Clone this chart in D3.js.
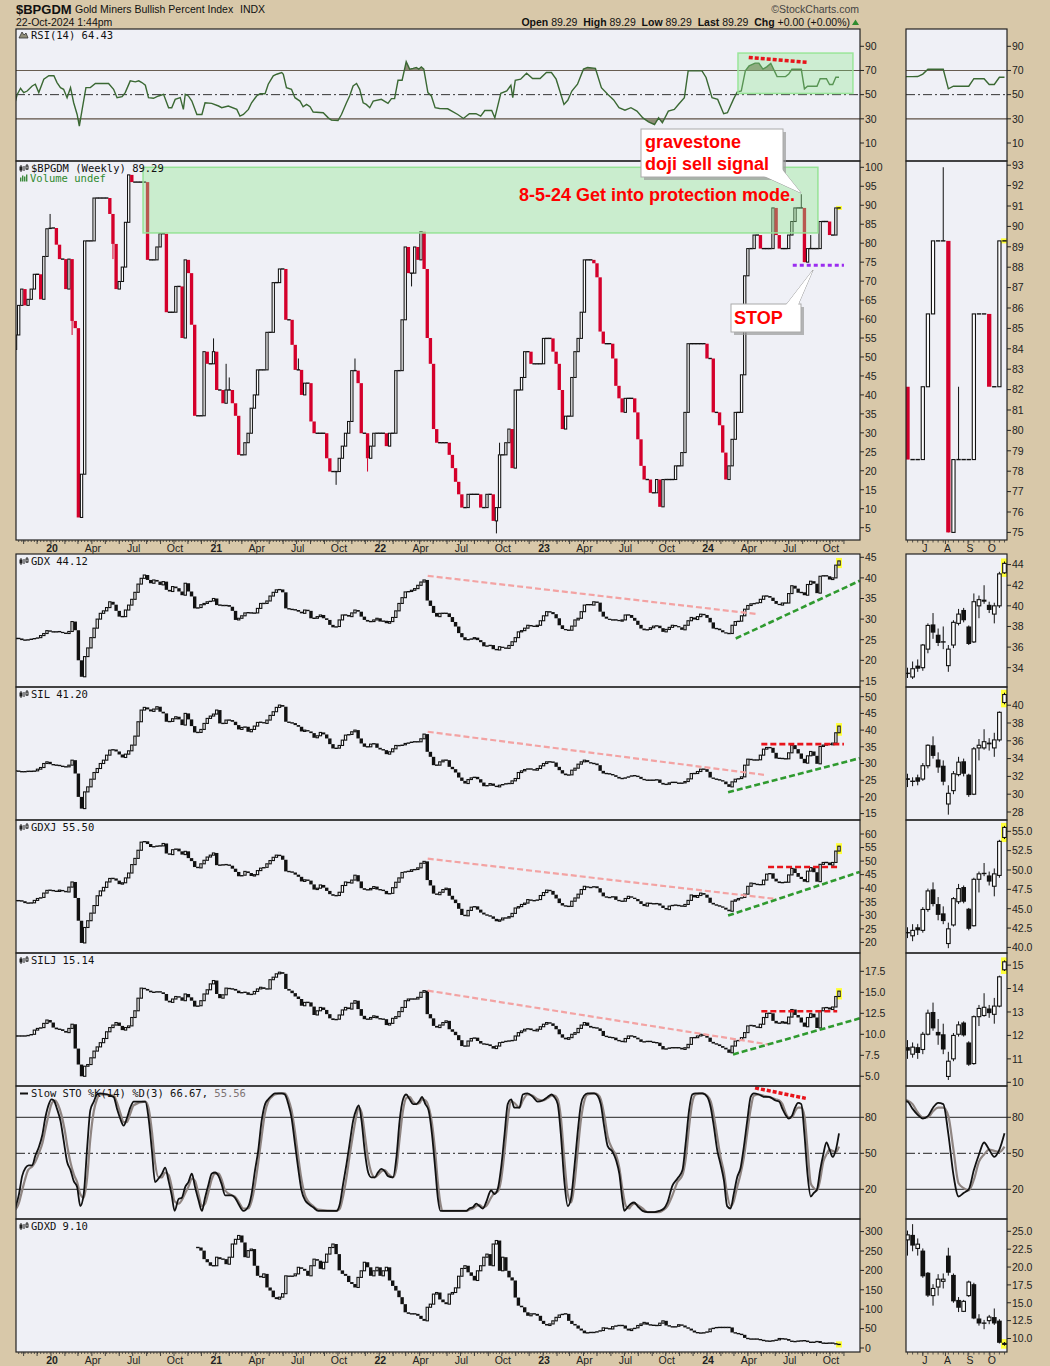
<!DOCTYPE html>
<html><head><meta charset="utf-8">
<script src="https://cdn.jsdelivr.net/npm/d3@7/dist/d3.min.js"></script>
<style>html,body{margin:0;padding:0;background:#d8c8a9;}svg{display:block}</style>
</head><body>
<svg id="chart" width="1050" height="1366" xmlns="http://www.w3.org/2000/svg"></svg>
<script>
// ---------------- DATA (weekly bars, week 0 = week of 14-Oct-2019) ----------------
const bpgdmFirstOpen = 52;
const bpgdm = [
55.8,63.6,67.9,63.6,65.2,67.9,71.8,71.8,65.2,76.5,
83.8,84.0,84.0,79.6,75.8,75.8,67.9,75.8,59.5,57.6,
7.7,19.1,80.6,80.6,80.6,91.9,91.9,91.9,91.9,91.9,
87.7,79.8,67.9,69.9,73.7,85.5,98.0,96.1,96.1,96.1,
96.1,96.1,75.6,75.6,75.6,79.0,82.5,82.5,61.8,61.8,
61.8,68.6,68.6,55.0,75.6,72.1,58.5,34.5,34.5,34.5,
51.4,48.2,48.2,51.4,41.3,41.3,37.8,41.3,41.3,37.8,
34.5,24.2,24.2,27.4,29.9,36.5,40.0,46.6,46.6,46.6,
56.5,56.5,69.6,69.6,73.2,73.2,59.8,59.8,53.2,46.6,
46.6,40.0,43.1,43.1,33.0,29.9,29.9,29.9,29.9,23.3,
19.8,19.8,19.8,23.3,26.5,29.9,33.0,46.4,46.4,43.1,
29.9,29.9,23.3,26.5,29.9,29.9,29.9,29.9,26.5,29.9,
29.9,46.4,46.4,59.8,79.0,72.1,72.1,79.0,75.6,83.0,
73.2,55.0,48.2,31.0,27.4,27.4,27.4,27.4,24.2,20.7,
17.1,13.8,10.3,10.3,13.8,13.8,13.8,13.8,10.3,10.3,
13.8,13.8,6.8,10.3,24.2,24.2,27.4,31.0,20.7,41.3,
41.3,44.6,51.4,51.4,48.2,48.2,48.2,48.2,54.9,54.9,
54.9,51.4,48.2,41.3,31.0,34.4,34.4,44.6,51.4,54.9,
61.8,75.6,75.6,75.6,74.7,71.0,56.7,53.5,53.5,53.5,
49.6,42.4,39.1,35.4,39.1,39.1,39.1,35.4,28.3,21.3,
17.7,17.7,14.2,14.2,17.7,10.5,17.7,17.7,17.7,17.7,
21.3,21.3,24.8,35.4,53.5,53.5,53.5,53.5,53.5,53.5,
49.6,49.6,35.4,35.4,32.0,24.8,17.7,21.3,28.3,35.4,
35.4,45.3,71.4,78.57,78.57,82.14,82.14,78.57,78.57,78.57,
78.57,89.29,82.14,78.57,78.57,78.57,82.14,85.71,89.29,89.29,
89.29,75.0,78.57,78.57,78.57,78.57,85.71,85.71,85.71,82.14,
82.14,89.29,89.29];
const bpgdmWickWeek  = [11,18,31,63,67,68,90,102,108,112,126,153,154,250,251,253];
const bpgdmWickValue = [87.7,55.8,75.8,54.9,48.2,44.6,49.6,16.3,49.6,19.8,68.6,3.5,27.4,92.9,82.14,82.14];

const rsiWeek = [0,0.5,1.6,2.6,3.7,5.3,6.3,7.4,9,10.6,12.2,13.2,14.3,15.3,16.4,17.5,18.5,19.6,20.3,21.2,22.4,23.8,25.4,29.6,31.2,32.3,33.9,34.9,36.5,38.1,39.2,40.2,41.3,42.3,43.9,45.5,47.1,48.7,49.7,50.8,52.4,53.4,54,55,56.1,57.7,59.3,60.3,62.4,64.6,65.6,67.7,70.4,71.4,72.5,74.1,75.1,76.7,77.8,79.4,80.4,82,83.1,84.7,85.2,86.2,87.8,88.9,90.5,91.5,92.6,93.7,94.7,97.9,99.5,100.5,102.6,103.7,105.3,106.3,107.4,108.5,109.5,110.6,111.6,112.7,113.8,116.4,118.5,119.6,120.6,121.7,123,124.3,125.4,126.5,127.5,128.3,129.1,129.9,131.2,132.3,133.5,134.9,137.5,140.7,142.5,144.4,146.5,148,149.3,151.5,152.5,154.4,156.3,157.6,158.2,159,160.7,162.6,164.5,166.9,168.9,170.5,172,174.5,175.7,177,178.8,180.7,182,184.5,186.4,188.4,190.3,192,193.9,195.8,197.7,199.6,201.4,203.3,204.6,205.8,207.7,209.6,210.9,212.8,214,218.4,219.7,221.6,223.4,225.3,226.5,228.4,229.6,230.9,232.2,233.4,235.3,236.5,237.8,239,240.3,242.3,243,244,245,246,247,248,249,250,251,252,253,254,255,256,257,258,259,260,261,262];
const rsiValue = [44.7,50,55.3,51.7,53,57.2,58.6,51.7,62.8,65.6,65.6,60,55.8,54.4,47.5,55.8,43.3,33.6,23.9,37.8,55.8,55.8,59.2,59.2,54.4,47.5,48.3,51.7,61.4,60.6,61.4,60,57.8,47.5,47,48.9,50.3,39.2,39.2,46.1,47.5,37.8,50.3,48.9,44.7,33.6,33.6,43.3,42.8,40.6,39.2,40.6,37.8,32.2,33.6,37.8,43.3,48.9,50.8,50.8,58.6,65.6,66.9,68.3,66.9,55.8,54.4,47.5,44.7,40,41.9,40,35.6,35,30.8,28.9,28.6,33.6,43.3,48.9,57.2,59.2,54.4,43.3,41.9,39.2,44.7,46.1,42.8,46.7,46.7,61.9,61.9,77.2,71.1,71.7,72.5,71.1,73,71.1,51.7,48.9,39.2,38.6,38.3,33.6,30.3,34.2,34.2,32.2,36.9,36.9,30.8,51.1,53,57.8,47.5,61.9,62.8,67.8,63.3,63.3,68.3,68.3,62.8,41.9,45.3,53,58.6,71.1,72.5,71.7,55.8,50.3,45.6,39.2,37.2,39.2,36.4,30.8,27.5,25.3,30.8,26.7,36.4,37.8,41.9,47.5,69.7,69.7,64.2,47.5,46.1,34.2,35,46.1,52.2,53,69.7,73.9,76.1,76.1,71.1,73,75.8,65,64.9,64.9,65,67,71,71,71,71,54.8,57,57,57,57,63.2,63.2,63.2,58.4,58.4,64.4,64.43];

const gdx = [
25.3,25.3,24.9,24.9,25.0,25.2,25.3,25.5,26.0,26.5,
27.2,27.0,26.8,27.0,26.9,26.6,26.5,27.0,29.4,27.3,
20.0,16.0,20.9,23.0,25.5,27.8,30.0,31.4,32.0,32.8,
34.2,33.5,32.0,30.6,30.6,32.2,33.4,34.8,36.5,38.5,
39.9,40.7,39.5,38.7,39.5,39.1,38.3,39.1,37.1,36.7,
37.9,37.5,36.7,35.8,38.7,36.7,35.5,32.6,32.8,33.5,
33.8,34.2,34.4,35.0,33.4,33.4,33.2,33.4,33.0,32.0,
29.8,30.2,30.8,31.5,31.6,31.4,31.5,32.6,33.8,33.8,
34.4,35.6,36.5,37.1,37.2,36.5,32.6,32.4,32.3,32.2,
31.8,31.4,32.2,32.0,30.2,30.2,30.6,31.0,30.2,29.8,
28.6,28.0,28.2,29.8,31.0,31.0,30.6,31.5,32.2,31.8,
30.6,29.8,29.4,29.4,29.8,30.2,29.4,29.6,29.0,29.4,
30.4,32.0,33.8,35.2,36.6,36.7,37.0,37.4,38.2,39.0,
39.5,34.5,33.2,31.5,30.6,31.4,31.4,31.4,30.5,29.3,
28.2,26.6,25.6,24.9,25.1,25.2,25.5,24.9,24.4,23.4,
23.5,23.7,22.7,22.5,23.3,23.0,22.9,23.6,24.5,25.5,
26.9,27.2,27.8,28.5,28.3,28.2,28.5,29.6,30.8,31.8,
31.7,31.2,30.2,28.5,27.6,27.3,27.3,28.3,29.8,30.2,
31.8,33.4,33.6,33.4,34.2,34.0,31.8,30.6,30.1,29.8,
29.8,29.8,29.5,29.8,31.0,31.0,30.3,29.6,28.6,27.7,
27.3,27.5,27.9,28.3,28.4,27.8,26.9,27.5,28.0,28.5,
28.3,28.0,27.4,28.5,29.6,30.4,29.9,30.6,31.2,31.0,
30.3,29.2,27.7,27.7,27.3,26.8,26.5,26.5,28.5,29.4,
29.5,30.8,32.4,33.3,33.7,33.8,34.0,34.8,35.6,35.6,
35.2,34.4,33.7,33.4,33.9,33.9,36.2,38.1,37.4,36.4,
36.5,35.8,38.4,39.2,38.6,36.3,40.4,40.6,40.4,39.6,
40.0,43.1,44.12];
const sil = [
27.8,27.6,27.5,27.6,27.7,27.6,27.8,28.3,28.8,30.0,
30.5,29.8,29.5,29.5,29.3,29.0,29.0,29.5,31.0,27.0,
20.0,16.5,21.5,23.0,25.3,27.3,28.5,30.0,31.0,32.5,
34.0,34.2,33.6,32.7,31.8,32.8,33.8,35.5,38.2,42.5,
46.0,46.8,46.2,45.6,46.3,47.0,45.5,45.0,42.5,42.6,
43.4,44.0,43.2,41.5,45.0,43.2,41.2,39.3,39.3,40.2,
42.0,43.5,44.2,44.8,46.0,42.0,42.0,43.0,43.0,42.5,
41.5,40.2,40.8,41.0,39.5,40.2,41.2,42.3,42.4,42.0,
43.0,44.4,45.5,46.8,47.5,47.0,42.5,42.2,42.1,41.5,
41.0,39.6,40.0,39.6,39.1,37.7,38.3,39.3,38.7,37.5,
35.8,34.5,34.6,35.4,37.0,38.5,38.7,39.5,40.0,37.5,
36.0,35.0,35.0,35.8,36.0,34.7,34.2,34.0,32.8,33.5,
34.4,35.4,35.3,35.6,36.0,36.2,36.5,36.5,36.5,37.4,
38.8,33.5,32.0,29.5,29.5,30.5,31.0,31.0,29.0,28.3,
27.3,25.8,24.8,24.0,25.2,25.7,26.0,25.3,24.3,23.2,
23.5,24.0,23.3,23.0,23.5,23.8,24.0,24.0,24.8,25.5,
27.3,27.8,28.2,28.5,28.2,28.0,28.5,29.3,30.0,30.5,
30.5,30.3,29.0,28.0,27.0,26.5,26.6,28.0,28.6,29.8,
30.5,31.0,30.4,30.0,30.0,29.5,27.8,27.0,27.0,26.8,
26.5,26.0,25.5,25.5,25.8,26.1,26.4,26.3,26.0,25.4,
25.0,25.0,25.0,25.0,25.2,24.2,23.7,23.8,24.2,24.5,
24.2,24.0,24.2,24.6,25.4,27.0,27.0,27.6,28.3,28.3,
27.5,25.8,25.4,25.2,25.0,24.6,23.8,23.0,24.5,25.3,
25.5,26.0,29.5,31.3,31.1,31.0,31.1,32.5,34.3,34.8,
34.7,33.2,31.5,31.6,31.4,31.4,33.2,35.5,34.3,33.0,
31.4,30.1,32.3,33.6,32.3,29.9,35.1,35.5,35.9,35.6,
36.1,39.2,41.2];
const gdxj = [
35.4,35.4,35.2,34.5,34.5,34.6,35.5,36.2,36.6,38.2,
39.2,39.3,38.9,38.8,39.3,38.9,38.6,40.4,42.3,36.4,
28.0,19.8,25.5,28.0,30.8,33.6,37.2,39.0,40.3,42.3,
43.6,43.6,42.8,41.5,42.0,43.8,45.6,48.7,51.0,54.0,
57.0,57.3,56.3,55.2,55.4,55.6,55.6,56.5,52.8,52.4,
54.2,54.6,53.6,52.4,53.6,51.1,50.0,47.8,47.5,49.0,
50.3,51.5,52.2,53.0,48.5,48.5,48.7,48.7,48.3,47.2,
46.0,44.4,44.8,46.2,45.6,44.5,45.0,46.5,47.4,47.7,
49.0,50.2,51.4,52.2,52.0,50.5,46.2,46.1,45.8,45.0,
44.2,42.5,43.1,42.8,41.4,39.5,40.0,41.2,40.2,39.0,
37.8,37.2,37.3,38.5,41.0,42.3,41.9,43.0,44.8,42.5,
40.0,39.4,39.4,39.9,40.6,39.5,39.4,39.0,37.8,38.1,
40.2,42.2,43.8,45.8,46.2,46.2,46.8,46.9,47.5,49.2,
49.9,43.0,41.0,38.0,37.6,38.5,39.5,40.0,37.2,35.8,
34.5,32.4,30.1,29.8,31.8,33.0,33.3,32.1,31.0,30.3,
29.9,29.6,28.7,27.8,28.3,29.0,29.0,29.5,30.7,32.7,
33.2,34.0,34.5,35.8,35.4,35.4,35.8,37.3,38.4,39.3,
39.0,37.6,36.2,34.5,33.6,33.3,33.3,35.2,36.4,37.8,
39.5,40.7,40.2,40.3,40.7,40.0,38.4,37.0,36.5,36.6,
37.0,35.7,35.2,35.2,36.2,37.0,36.5,36.0,35.2,34.2,
33.4,34.5,34.3,34.2,34.4,33.6,32.7,32.1,33.4,33.8,
33.7,33.5,33.3,34.0,35.5,37.5,36.6,37.3,38.2,37.6,
36.5,34.6,34.0,33.6,33.3,32.8,32.1,31.5,35.2,35.7,
36.2,36.6,37.8,40.7,41.9,41.5,41.3,41.3,43.0,45.2,
45.5,43.5,42.5,41.9,42.2,42.2,44.9,47.3,45.6,44.2,
43.4,42.4,46.3,47.6,45.9,42.4,48.8,49.5,49.5,48.5,
49.5,53.7,55.5];
const silj = [
9.8,9.8,9.8,9.8,9.9,10.0,10.5,10.7,10.8,11.3,
11.7,11.4,10.8,10.6,10.6,10.4,10.2,10.7,11.2,8.3,
6.4,5.0,6.2,6.4,7.2,8.0,8.5,9.0,9.5,10.3,
10.8,11.1,11.4,11.0,10.5,10.8,11.0,12.0,12.8,14.3,
15.5,15.4,15.2,15.0,15.0,15.1,15.0,14.8,14.0,13.8,
14.2,14.5,14.4,14.0,14.8,14.4,14.0,13.3,13.4,14.0,
14.8,15.3,16.0,16.4,14.8,14.3,14.7,15.5,15.4,15.4,
15.2,14.9,15.0,15.0,14.7,14.8,15.1,15.4,15.6,15.4,
15.4,16.5,16.8,17.2,17.4,17.2,15.4,15.2,14.9,14.5,
14.2,13.4,13.8,13.8,13.3,12.3,12.8,13.2,12.9,12.4,
11.9,11.7,11.8,12.3,12.9,13.2,13.0,13.7,14.0,13.0,
12.2,11.8,11.8,12.0,12.2,11.9,11.8,11.8,11.1,11.3,
11.9,12.1,12.7,13.2,14.0,14.2,14.2,14.2,14.4,15.0,
15.2,12.4,11.9,11.0,10.8,11.1,11.4,11.6,10.6,10.3,
9.9,9.3,8.6,8.6,9.2,9.5,9.6,9.2,8.9,8.8,
8.8,8.6,8.3,8.6,9.0,9.1,9.2,9.2,9.3,9.8,
10.2,10.4,10.6,10.7,10.5,10.4,10.6,10.9,11.2,11.4,
11.3,11.0,10.6,10.0,9.6,9.4,9.6,10.0,10.2,10.7,
11.1,11.4,11.0,10.8,10.8,10.7,10.4,9.8,9.7,9.6,
9.6,9.3,9.2,9.1,9.5,9.8,9.8,9.6,9.4,9.1,
9.1,9.2,9.1,9.0,9.0,8.6,8.2,8.3,8.4,8.4,
8.4,8.4,8.2,8.4,8.8,9.6,9.6,9.8,10.0,9.8,
9.6,9.1,8.9,8.8,8.6,8.4,8.2,7.8,8.6,9.2,
9.3,9.6,10.2,11.0,11.1,10.9,10.8,11.2,12.0,12.5,
12.5,11.6,11.3,11.35,11.5,11.25,12.05,12.95,12.3,12.0,
11.4,10.9,12.0,12.45,12.0,10.75,12.8,13.15,13.2,12.95,
13.25,14.5,15.14];
const gdxdFirstWeek = 58;
const gdxd = [
259,251,229,221,212,212,234,229,229,216,
234,268,280,290,272,234,251,255,212,186,
182,191,156,148,131,126,131,140,186,184,
186,191,208,204,199,186,212,229,225,204,
221,242,259,268,242,200,191,186,170,165,
156,182,199,221,208,186,199,208,186,199,
208,174,160,148,131,113,92,88,88,88,
83,75,70,105,113,139,143,125,118,113,
139,143,155,185,205,212,195,186,174,199,
212,234,242,212,268,277,199,234,199,182,
174,130,109,105,92,83,88,88,83,70,
62,58,62,70,79,85,88,88,70,62,
58,50,45,38,40,40,40,43,45,52,
50,49,55,58,58,58,50,45,49,52,
58,62,66,60,59,58,58,64,70,58,
56,53,56,60,58,53,50,45,40,39,
38,40,42,49,52,53,53,53,53,53,
40,38,36,34,26,23,23,23,23,20,
19,17,18,19,21,
24.5,23.0,23.2,18.7,16.0,17.0,18.3,18.3,19.2,15.2,
14.3,15.2,17.9,12.8,12.1,12.1,13.0,12.1,9.4,9.1];

const stoKWeek = [0,1.1,2.1,3.2,4.2,5.3,6.3,7.4,8.5,9.5,10.6,11.4,12.2,13.2,14.3,15.3,16.4,17.5,18.5,19.6,20.6,21.7,22.8,23.8,24.9,25.9,27,31.2,32.3,33.3,34.4,35.4,36.5,37.6,41.3,42.3,43.4,44.4,45.5,46.6,47.6,48.7,49.7,50.6,51.9,52.9,54,55,56.1,57.1,58.2,59.3,60.3,61.4,62.4,63.5,64.6,65.6,66.7,68.8,69.8,70.9,72.5,74.1,75.1,76.2,77.2,78.3,79.4,80.4,81.5,82.5,84.7,85.7,86.8,87.8,88.9,89.9,91,92.1,93.1,94.7,96.3,102.1,103.2,104.2,105.3,106.3,107.4,108.5,109.2,110.1,111.1,112.2,113.2,114.3,115.3,116.4,117.5,118.5,120.1,121.2,122.2,123.3,124.3,125.4,126.5,127.5,128.6,129.3,130.4,131.4,132.5,133.5,134.4,135.2,143.4,144.4,145.5,146.6,147.6,148.7,149.7,151.3,152.4,153.4,154.5,155.6,156.6,157.7,158.7,160.3,161.4,162.9,164.6,166.1,167.7,169.3,170.6,171.4,172.5,173.5,174.6,175.7,176.7,177.8,178.8,179.9,180.9,182,184.1,185.2,186.2,187.3,188.4,190,191.1,192.1,193.1,193.7,194.7,195.8,196.8,197.9,199.5,201.1,203.2,204.8,206.3,207.4,209,210.6,212.2,213.2,214.3,215.3,216.4,218.5,220.1,221.2,222.2,223.3,224.3,225.4,226.4,227.5,228.5,229.6,230.7,231.7,232.8,233.9,234.9,236.5,238.1,239.7,241.8,243,244,245,246,247,248,249,250,251,252,253,254,255,256,257,258,259,260,261,262];
const stoKValue = [5,16,31,38,40,40,48,55,65,80,91,95,94,87,77,61,43,36,27,22,6,16,55,86,93,99,100,97,87,79,73,79,88,93,93,80,52,26,29,33,38,27,15,2,12,13,22,26,33,22,11,2,13,24,33,34,31,24,15,15,13,8,2,6,16,36,52,77,91,95,98,100,100,99,91,80,58,38,19,11,8,5,2,2,8,24,41,58,77,87,90,77,52,34,30,30,34,37,35,31,30,47,77,95,99,95,91,91,94,97,91,86,66,38,12,2,2,4,5,8,6,4,9,19,16,20,38,66,91,95,88,88,99,100,97,93,94,97,99,97,91,66,27,6,12,38,66,91,98,100,100,98,91,72,56,51,44,33,11,2,5,8,9,6,2,1,1,2,4,9,23,29,36,58,86,99,100,100,97,88,72,52,41,27,6,4,16,30,38,55,77,97,100,99,97,97,94,93,87,82,79,81,88,92,91,66,32,14,17,20,36,49,59,53,47,53,66.67];
const stoDWeek = [0,1,2,3,4,5.3,6.3,7.4,8.5,9.5,10.6,11.6,12.6,13.6,14.6,15.6,16.6,17.6,18.6,19.6,20.6,21.7,22.8,23.8,24.9,25.9,27,31.2,32.3,33.3,34.4,35.4,36.5,37.6,41.3,42.3,43.4,44.4,45.5,46.6,47.6,48.7,49.7,50.6,51.9,52.9,54,55,56.1,57.1,58.2,59.3,60.3,61.4,62.4,63.5,64.6,65.6,66.7,68.8,69.8,70.9,72.5,74.1,75.1,76.2,77.2,78.3,79.4,80.4,81.5,82.5,84.7,85.7,86.8,87.8,88.9,89.9,91,92.1,93.1,94.7,96.3,102.1,103.2,104.2,105.3,106.3,107.4,108.5,109.2,110.1,111.1,112.2,113.2,114.3,115.3,116.4,117.5,118.5,120.1,121.2,122.2,123.3,124.3,125.4,126.5,127.5,128.6,129.3,130.4,131.4,132.5,133.5,134.4,135.2,136,143.4,144.4,145.5,146.6,147.6,148.7,149.7,151.3,152.4,153.4,154.5,155.6,156.6,157.7,158.7,160.3,161.4,162.9,164.6,166.1,167.7,169.3,170.6,171.4,172.5,173.5,174.6,175.7,176.7,177.8,178.8,179.9,180.9,182,184.1,185.2,186.2,187.3,188.4,190,191.1,192.1,193.1,194.2,195.2,195.8,196.8,197.9,199.5,201.1,203.2,204.8,206.3,207.4,209,210.6,212.2,213.2,214.3,215.3,216.4,218.5,220.1,221.2,222.2,223.3,224.3,225.4,226.4,227.5,228.5,229.6,230.7,231.7,232.8,233.9,234.9,236.5,238.1,239.7,241.8,243,244,245,246,247,248,249,250,251,252,253,254,255,256,257,258,259,260,261,262];
const stoDValue = [3,8,18,28,36,39,43,50,58,70,83,92,94,90,82,70,54,41,32,26,16,13,30,62,85,95,99,98,92,84,76,76,83,90,93,88,68,42,30,30,34,32,22,10,8,11,17,22,29,27,16,6,8,18,28,33,33,28,19,15,14,10,4,4,10,24,42,64,84,93,97,99,100,100,95,86,68,48,28,15,10,6,3,2,4,14,30,48,66,82,88,84,66,45,34,30,32,35,36,33,30,38,62,86,96,97,93,91,92,95,94,89,75,52,25,8,2,2,3,4,6,7,5,6,13,17,18,28,52,78,93,92,88,94,99,98,95,94,96,98,98,95,80,45,16,9,24,50,78,93,99,100,99,95,82,64,53,48,38,20,6,4,6,8,7,4,1,1,1,3,6,15,26,32,45,72,92,99,100,98,93,81,63,47,34,16,6,10,22,33,46,67,87,98,99,98,97,95,94,91,84,80,80,85,88,88,81,53,25,21,19,28,43,49,53,52,51,55.56];

// last 20 weekly bars (right-hand panels): opens, highs, lows (closes come from the series above)
const gdxRecentOpen  = [33.5,33.1,34.2,34.0,35.8,38.2,37.2,36.5,34.2,36.2,38.3,39.6,38.0,36.5,40.0,40.6,40.1,39.2,40.0,43.2];
const gdxRecentHigh  = [34.0,34.6,34.8,36.3,38.3,39.3,37.8,38.0,36.2,38.6,39.7,39.8,38.1,41.2,41.0,42.0,40.4,40.3,43.3,44.3];
const gdxRecentLow   = [33.0,32.9,33.6,33.7,35.4,36.8,36.1,35.8,33.6,35.9,38.1,38.4,36.2,36.4,38.8,40.2,39.3,38.3,39.8,43.1];
const silRecentOpen  = [31.8,31.5,31.9,31.7,33.2,35.5,33.9,33.2,28.9,30.4,32.2,33.7,32.2,30.0,35.2,35.2,35.8,35.2,36.1,40.3];
const silRecentHigh  = [32.3,31.9,32.2,33.5,35.6,36.5,34.7,33.8,31.0,32.6,34.2,34.0,32.3,35.3,36.2,37.3,36.3,36.9,39.3,41.4];
const silRecentLow   = [30.8,30.9,31.0,31.5,32.9,34.0,32.4,31.0,27.7,30.0,32.0,32.0,29.7,29.9,33.8,35.0,34.9,34.2,35.9,40.1];
const gdxjRecentOpen = [41.9,41.5,42.6,42.2,44.9,47.5,45.6,44.4,40.5,42.9,45.9,47.8,45.0,42.8,48.8,49.6,49.3,47.9,49.3,54.2];
const gdxjRecentHigh = [42.6,43.0,43.0,45.2,47.6,48.4,46.5,45.3,43.2,46.5,48.2,48.0,45.1,49.0,49.8,50.9,49.8,50.2,53.9,55.7];
const gdxjRecentLow  = [41.2,40.8,41.6,41.9,44.6,45.3,43.5,43.0,39.9,42.7,45.6,45.7,42.2,42.7,47.1,49.2,48.0,46.6,49.0,54.0];
const siljRecentOpen = [11.5,11.2,11.5,11.4,12.05,13.0,12.15,12.05,10.25,11.0,12.05,12.55,11.7,10.8,12.8,12.85,13.15,12.9,13.25,14.8];
const siljRecentHigh = [11.8,11.7,11.65,12.15,13.1,13.4,12.7,12.5,11.3,12.1,12.6,12.6,11.75,12.85,13.3,13.8,13.3,13.6,14.55,15.2];
const siljRecentLow  = [11.0,11.05,11.0,11.2,12.0,12.2,11.6,11.2,10.1,10.9,11.95,11.95,10.7,10.75,12.4,12.8,12.75,12.5,13.2,14.75];
const gdxdRecentOpen = [23.8,24.5,22.6,22.3,19.2,16.0,17.2,18.0,21.6,18.9,15.4,13.8,16.0,17.6,12.8,12.2,12.5,13.0,12.5,9.4];
const gdxdRecentHigh = [25.1,26.0,24.0,22.6,19.3,17.6,19.0,19.1,22.7,19.1,15.8,15.4,18.1,17.8,13.4,12.6,13.3,14.2,12.7,9.5];
const gdxdRecentLow  = [21.6,22.2,21.6,18.5,15.8,14.6,16.0,17.0,18.8,15.0,13.7,13.7,15.8,12.7,11.8,11.3,12.0,11.9,9.3,9.0];

// tick labels
const rsiTicks = [10,30,50,70,90];
const bpTicks = [5,10,15,20,25,30,35,40,45,50,55,60,65,70,75,80,85,90,95,100];
const bpRightTicks = [75,76,77,78,79,80,81,82,83,84,85,86,87,88,89,90,91,92,93];
const gdxTicks = [15,20,25,30,35,40,45];
const gdxRightTicks = [34,36,38,40,42,44];
const silTicks = [15,20,25,30,35,40,45,50];
const silRightTicks = [28,30,32,34,36,38,40];
const gdxjTicks = [20,25,30,35,40,45,50,55,60];
const gdxjRightTicks = [40,42.5,45,47.5,50,52.5,55];
const siljTicks = [5,7.5,10,12.5,15,17.5];
const siljRightTicks = [10,11,12,13,14,15];
const stoTicks = [20,50,80];
const gdxdTicks = [0,50,100,150,200,250,300];
const gdxdRightTicks = [10,12.5,15,17.5,20,22.5,25];

// ---------------- DRAWING ----------------
const DAY = 864e5;
const firstWeek = new Date(2019, 9, 14);
const wk = k => new Date(firstWeek.getTime() + k * 7 * DAY);
const svg = d3.select('#chart');
const defs = svg.append('defs');
const SANS = "'Liberation Sans', Arial, sans-serif";
const MONO = "'DejaVu Sans Mono', monospace";
const PANEL = '#eff0f6', RED = '#d4002b', INK = '#111';
const L = 16, R = 860, RL = 906, RR = 1007;

svg.append('rect').attr('width',1050).attr('height',1366).attr('fill','#d8c8a9');

const x  = d3.scaleTime().domain([new Date(2020,0,1), new Date(2024,0,1)]).range([51,707]);
const rx = d3.scaleTime().domain([new Date(2024,5,10), new Date(2024,9,21)]).range([907.5,1004.5]);
const lin = (d,r)=>d3.scaleLinear().domain(d).range(r);

const rows = {
  rsi:  {t:29,  b:161,  y:lin([10,90],[143,46.3]),      ry:lin([10,90],[143,46.3]),      ticks:rsiTicks, rticks:rsiTicks, f:d3.format('d'), rf:d3.format('d')},
  bp:   {t:161, b:540,  y:lin([5,100],[527.7,167.3]),   ry:lin([75,93],[532.4,165.2]),   ticks:bpTicks, rticks:bpRightTicks, f:d3.format('d'), rf:d3.format('d')},
  gdx:  {t:554, b:687,  y:lin([15,45],[680.9,557.3]),   ry:lin([34,44],[667.7,564.6]),   ticks:gdxTicks, rticks:gdxRightTicks, f:d3.format('d'), rf:d3.format('d')},
  sil:  {t:687, b:820,  y:lin([15,50],[813.6,696.7]),   ry:lin([28,40],[812,705.2]),     ticks:silTicks, rticks:silRightTicks, f:d3.format('d'), rf:d3.format('d')},
  gdxj: {t:820, b:953,  y:lin([20,60],[942.4,834]),     ry:lin([40,55],[947.4,831.3]),   ticks:gdxjTicks, rticks:gdxjRightTicks, f:d3.format('d'), rf:d3.format('.1f')},
  silj: {t:953, b:1086, y:lin([5,17.5],[1076.3,971.3]), ry:lin([10,15],[1082.3,965.1]),  ticks:siljTicks, rticks:siljRightTicks, f:d3.format('.1f'), rf:d3.format('d')},
  sto:  {t:1086,b:1219, y:lin([20,80],[1189.3,1117.3]), ry:lin([20,80],[1189.3,1117.3]), ticks:stoTicks, rticks:stoTicks, f:d3.format('d'), rf:d3.format('d')},
  gdxd: {t:1219,b:1352, y:lin([0,300],[1348,1231.6]),   ry:lin([10,25],[1338.5,1231.3]), ticks:gdxdTicks, rticks:gdxdRightTicks, f:d3.format('d'), rf:d3.format('.1f')}
};

Object.entries(rows).forEach(([k,r])=>{
  svg.append('rect').attr('x',L).attr('y',r.t).attr('width',R-L).attr('height',r.b-r.t).attr('fill',PANEL);
  svg.append('rect').attr('x',RL).attr('y',r.t).attr('width',RR-RL).attr('height',r.b-r.t).attr('fill',PANEL);
  defs.append('clipPath').attr('id','m_'+k).append('rect').attr('x',L).attr('y',r.t).attr('width',R-L).attr('height',r.b-r.t);
  defs.append('clipPath').attr('id','r_'+k).append('rect').attr('x',RL).attr('y',r.t).attr('width',RR-RL).attr('height',r.b-r.t);
  r.gm = svg.append('g').attr('clip-path',`url(#m_${k})`);
  r.gr = svg.append('g').attr('clip-path',`url(#r_${k})`);
});

function hline(g, x0, x1, yy, col, w, dash){
  const l = g.append('line').attr('x1',x0).attr('x2',x1).attr('y1',yy).attr('y2',yy).attr('stroke',col).attr('stroke-width',w);
  if (dash) l.attr('stroke-dasharray',dash);
}
[['m',L,R],['r',RL,RR]].forEach(([s,x0,x1])=>{
  const gR = s==='m'?rows.rsi.gm:rows.rsi.gr, gS = s==='m'?rows.sto.gm:rows.sto.gr;
  hline(gR,x0,x1,rows.rsi.y(70),'#5b4e45',1.2); hline(gR,x0,x1,rows.rsi.y(30),'#5b4e45',1.2);
  hline(gR,x0,x1,rows.rsi.y(50),'#333',1,'9,3,2,3');
  hline(gS,x0,x1,rows.sto.y(80),'#222',1); hline(gS,x0,x1,rows.sto.y(20),'#222',1);
  hline(gS,x0,x1,rows.sto.y(50),'#222',1,'9,3,2,3');
});

// ---- RSI ----
const rsiPts = rsiWeek.map((w,i)=>[w, rsiValue[i]]);
function drawRSI(g, xf, pts, id, x0, x1){
  const y = rows.rsi.y;
  defs.append('clipPath').attr('id',id+'hi').append('rect').attr('x',x0).attr('y',29).attr('width',x1-x0).attr('height',y(70)-29);
  defs.append('clipPath').attr('id',id+'lo').append('rect').attr('x',x0).attr('y',y(30)).attr('width',x1-x0).attr('height',161-y(30));
  g.append('path').datum(pts).attr('clip-path',`url(#${id}hi)`).attr('fill','#8f8d78')
    .attr('d', d3.area().x(d=>xf(wk(d[0]))).y0(y(70)).y1(d=>y(d[1])));
  g.append('path').datum(pts).attr('clip-path',`url(#${id}lo)`).attr('fill','#8f8d78')
    .attr('d', d3.area().x(d=>xf(wk(d[0]))).y0(y(30)).y1(d=>y(d[1])));
  g.append('path').datum(pts).attr('fill','none').attr('stroke','#3a6833').attr('stroke-width',1.4)
    .attr('d', d3.line().x(d=>xf(wk(d[0]))).y(d=>y(d[1])));
}
drawRSI(rows.rsi.gm, x, rsiPts, 'rsiM', L, R);
drawRSI(rows.rsi.gr, rx, rsiPts.filter(d=>d[0]>=241), 'rsiR', RL, RR);

// ---- candles ----
function drawBars(g, bars, xf, ys, w, mode, sw){
  bars.forEach(d=>{
    const cx = xf(wk(d.k));
    const hi = Math.max(d.o,d.c), lo = Math.min(d.o,d.c);
    const up = d.c >= d.o;
    const col = (mode==='bp' && !up) ? RED : INK;
    if (d.h != null) g.append('line').attr('x1',cx).attr('x2',cx).attr('y1',ys(d.h)).attr('y2',ys(d.l)).attr('stroke',col).attr('stroke-width',1);
    const yt = ys(hi), yb = ys(lo);
    if (yb - yt < 1.2) {
      g.append('line').attr('x1',cx-w/2-0.6).attr('x2',cx+w/2+0.6).attr('y1',(yt+yb)/2).attr('y2',(yt+yb)/2).attr('stroke',col).attr('stroke-width',1.4);
    } else if (up) {
      g.append('rect').attr('x',cx-w/2).attr('y',yt).attr('width',w).attr('height',yb-yt).attr('fill','#fff').attr('stroke',INK).attr('stroke-width',sw);
    } else {
      g.append('rect').attr('x',cx-w/2-sw/2).attr('y',yt).attr('width',w+sw).attr('height',yb-yt).attr('fill', mode==='bp'?RED:INK);
    }
  });
}
function seriesBars(closes, startK, firstOpen){
  return closes.map((c,i)=>({k:startK+i, o: i===0 ? (firstOpen==null?c:firstOpen) : closes[i-1], c:c}));
}
function highlight(g, cx, yTop, yBot, w){
  g.append('rect').attr('x',cx-w/2).attr('y',yTop).attr('width',w).attr('height',Math.max(yBot-yTop,4)).attr('fill','#ffff3a');
}

// BPGDM
const bpBars = seriesBars(bpgdm, 0, bpgdmFirstOpen);
function bpWicks(g, xf, ys, minK){
  bpgdmWickWeek.forEach((k,i)=>{
    if (k < minK) return;
    const b = bpBars[k]; const v = bpgdmWickValue[i];
    const edge = v > Math.max(b.o,b.c) ? Math.max(b.o,b.c) : Math.min(b.o,b.c);
    const cx = xf(wk(k));
    g.append('line').attr('x1',cx).attr('x2',cx).attr('y1',ys(edge)).attr('y2',ys(v)).attr('stroke', b.c>=b.o?INK:RED).attr('stroke-width',1);
  });
}
{
  const last = bpBars[bpBars.length-1];
  highlight(rows.bp.gm, x(wk(last.k)), rows.bp.y(last.c)-2, rows.bp.y(last.c)+2, 6);
  highlight(rows.bp.gr, rx(wk(last.k)), rows.bp.ry(last.c)-2.5, rows.bp.ry(last.c)+2.5, 7);
}
bpWicks(rows.bp.gm, x, rows.bp.y, 0);
drawBars(rows.bp.gm, bpBars, x, rows.bp.y, 2.3, 'bp', 1.05);
bpWicks(rows.bp.gr, rx, rows.bp.ry, 243);
drawBars(rows.bp.gr, bpBars.filter(b=>b.k>=243), rx, rows.bp.ry, 3.2, 'bp', 1.1);

// price panels
const priceSets = [
  ['gdx', gdx, 0, gdxRecentOpen, gdxRecentHigh, gdxRecentLow],
  ['sil', sil, 0, silRecentOpen, silRecentHigh, silRecentLow],
  ['gdxj', gdxj, 0, gdxjRecentOpen, gdxjRecentHigh, gdxjRecentLow],
  ['silj', silj, 0, siljRecentOpen, siljRecentHigh, siljRecentLow],
  ['gdxd', gdxd, gdxdFirstWeek, gdxdRecentOpen, gdxdRecentHigh, gdxdRecentLow]
];
priceSets.forEach(([key, closes, startK, ro, rh, rl])=>{
  const r = rows[key];
  const bars = seriesBars(closes, startK);
  const lb = bars[bars.length-1];
  highlight(r.gm, x(wk(lb.k)), r.y(Math.max(lb.o,lb.c))-3, r.y(Math.min(lb.o,lb.c))+3, 6);
  drawBars(r.gm, bars, x, r.y, 2.3, 'bw', 1.1);
  const rb = ro.map((o,i)=>({k:243+i, o:o, h:rh[i], l:rl[i], c:closes[closes.length-20+i]}));
  const last = rb[rb.length-1];
  highlight(r.gr, rx(wk(last.k)), r.ry(last.h)-3, r.ry(last.l)+3, 7);
  drawBars(r.gr, rb, rx, r.ry, 3.6, 'bw', 1.1);
});

// ---- Slow stochastic ----
function drawSto(g, xf, minK){
  const y = rows.sto.y;
  const dp = stoDWeek.map((w,i)=>[w,stoDValue[i]]).filter(d=>d[0]>=minK);
  const kp = stoKWeek.map((w,i)=>[w,stoKValue[i]]).filter(d=>d[0]>=minK);
  const ln = d3.line().x(d=>xf(wk(d[0]))).y(d=>y(d[1])).curve(d3.curveMonotoneX);
  g.append('path').datum(dp).attr('fill','none').attr('stroke','#8f8582').attr('stroke-width',2.2).attr('d',ln);
  g.append('path').datum(kp).attr('fill','none').attr('stroke','#111').attr('stroke-width',1.8).attr('d',ln);
}
drawSto(rows.sto.gm, x, 0);
drawSto(rows.sto.gr, rx, 241);

// ---- annotations ----
function dline(g, ys, d0, v0, d1, v1, col, w, dash, op){
  g.append('line').attr('x1',x(d0)).attr('y1',ys(v0)).attr('x2',x(d1)).attr('y2',ys(v1))
   .attr('stroke',col).attr('stroke-width',w).attr('stroke-dasharray',dash).attr('opacity',op||1);
}
const D = (y,m,d)=>new Date(y,m-1,d);
const PINK='#f3a3a3', GREEN='#2f9a2f', REDD='#e8141b';
dline(rows.gdx.gm, rows.gdx.y, D(2022,4,19),40.5, D(2024,4,23),31.2, PINK,2.2,'6,3');
dline(rows.gdx.gm, rows.gdx.y, D(2024,3,5),25.3, D(2024,12,6),39.3, GREEN,2.6,'6,3');
dline(rows.sil.gm, rows.sil.y, D(2022,4,19),39.5, D(2024,5,8),26.6, PINK,2.2,'6,3');
dline(rows.sil.gm, rows.sil.y, D(2024,5,1),35.8, D(2024,11,1),35.8, REDD,2.6,'6,3');
dline(rows.sil.gm, rows.sil.y, D(2024,2,17),21.4, D(2024,12,6),31.6, GREEN,2.6,'6,3');
dline(rows.gdxj.gm, rows.gdxj.y, D(2022,4,19),50.9, D(2024,5,30),36.1, PINK,2.2,'6,3');
dline(rows.gdxj.gm, rows.gdxj.y, D(2024,5,16),47.8, D(2024,10,17),47.8, REDD,2.6,'6,3');
dline(rows.gdxj.gm, rows.gdxj.y, D(2024,2,17),29.9, D(2024,12,6),46, GREEN,2.6,'6,3');
dline(rows.silj.gm, rows.silj.y, D(2022,4,19),15.2, D(2024,5,16),8.8, PINK,2.2,'6,3');
dline(rows.silj.gm, rows.silj.y, D(2024,5,1),12.75, D(2024,10,17),12.75, REDD,2.6,'6,3');
dline(rows.silj.gm, rows.silj.y, D(2024,2,28),7.6, D(2024,12,6),11.9, GREEN,2.6,'6,3');
dline(rows.sto.gm, rows.sto.y, D(2024,4,17),104.5, D(2024,8,8),95.8, REDD,3.5,'4,2');
rows.rsi.gm.append('rect').attr('x',x(D(2024,3,10))).attr('y',rows.rsi.y(84.4)).attr('width',x(D(2024,11,21))-x(D(2024,3,10)))
  .attr('height',rows.rsi.y(51)-rows.rsi.y(84.4)).attr('fill','#8fe88f').attr('fill-opacity',0.35).attr('stroke','#9ae69a').attr('stroke-width',1.5);
dline(rows.rsi.gm, rows.rsi.y, D(2024,4,3),80.8, D(2024,8,14),76.7, REDD,3.5,'4,2');
rows.bp.gm.append('rect').attr('x',x(D(2020,7,24))).attr('y',rows.bp.y(100)).attr('width',x(D(2024,9,4))-x(D(2020,7,24)))
  .attr('height',rows.bp.y(82.7)-rows.bp.y(100)).attr('fill','#8fe88f').attr('fill-opacity',0.38).attr('stroke','#96e396').attr('stroke-width',1.5);
dline(rows.bp.gm, rows.bp.y, D(2024,7,10),74.2, D(2024,11,1),74.2, '#9b2cf0',3,'4,3');

// ---- borders ----
Object.values(rows).forEach(r=>{
  svg.append('rect').attr('x',L).attr('y',r.t).attr('width',R-L).attr('height',r.b-r.t).attr('fill','none').attr('stroke','#222').attr('stroke-width',1.2);
  svg.append('rect').attr('x',RL).attr('y',r.t).attr('width',RR-RL).attr('height',r.b-r.t).attr('fill','none').attr('stroke','#222').attr('stroke-width',1.2);
});

// ---- y axes ----
Object.values(rows).forEach(r=>{
  [[r.y,r.ticks,r.f,R],[r.ry,r.rticks,r.rf,RR]].forEach(([ys,ticks,f,xr])=>{
    ticks.forEach(v=>{
      const yy = ys(v);
      if (yy < r.t-1 || yy > r.b+1) return;
      svg.append('line').attr('x1',xr).attr('x2',xr+4).attr('y1',yy).attr('y2',yy).attr('stroke','#222').attr('stroke-width',1);
      svg.append('text').attr('x',xr+5).attr('y',yy+3.8).attr('font-family',SANS).attr('font-size',10.5).attr('fill','#222').text(f(v));
    });
  });
});

// ---- x axes ----
function xAxis(yb, labelY){
  const g = svg.append('g');
  for (let k=0;k<=263;k++){ const xx=x(wk(k)); if(xx<L||xx>R) continue;
    g.append('line').attr('x1',xx).attr('x2',xx).attr('y1',yb).attr('y2',yb+2).attr('stroke','#333').attr('stroke-width',0.8); }
  d3.timeMonth.range(new Date(2019,10,1), new Date(2024,11,1)).forEach(d=>{
    const xx = x(d); if (xx<L||xx>R) return;
    g.append('line').attr('x1',xx).attr('x2',xx).attr('y1',yb).attr('y2',yb+4).attr('stroke','#333').attr('stroke-width',0.9);
    const m = d.getMonth();
    if (m%3===0){
      const lab = m===0 ? String(d.getFullYear()).slice(2) : ({3:'Apr',6:'Jul',9:'Oct'})[m];
      g.append('text').attr('x',xx+1).attr('y',labelY).attr('text-anchor','middle').attr('font-family',SANS)
        .attr('font-size',10.5).attr('font-weight', m===0?'bold':'normal').attr('fill','#222').text(lab);
    }
  });
  for (let k=243;k<=262;k++){ const xx=rx(wk(k));
    g.append('line').attr('x1',xx).attr('x2',xx).attr('y1',yb).attr('y2',yb+2.5).attr('stroke','#333').attr('stroke-width',0.8); }
  [[new Date(2024,6,1),'J'],[new Date(2024,7,1),'A'],[new Date(2024,8,1),'S'],[new Date(2024,9,1),'O']].forEach(([d,t])=>{
    const xx = rx(d);
    g.append('line').attr('x1',xx).attr('x2',xx).attr('y1',yb).attr('y2',yb+4).attr('stroke','#333').attr('stroke-width',0.9);
    g.append('text').attr('x',xx+2).attr('y',labelY).attr('text-anchor','middle').attr('font-family',SANS).attr('font-size',10.5).attr('fill','#222').text(t);
  });
}
xAxis(540, 551.5);
xAxis(1352, 1363.5);

// ---- panel titles ----
function icon(x0, yb){
  const g = svg.append('g').attr('stroke','#222').attr('stroke-width',1);
  [[x0,yb-7,yb],[x0+3,yb-6,yb-1],[x0+6,yb-8,yb-2]].forEach(([xx,a,b])=>g.append('line').attr('x1',xx).attr('x2',xx).attr('y1',a).attr('y2',b));
  g.append('rect').attr('x',x0-1).attr('y',yb-5).attr('width',2).attr('height',3).attr('fill','#222');
  g.append('rect').attr('x',x0+5).attr('y',yb-6).attr('width',2).attr('height',3).attr('fill','#fff');
}
function title(yb, txt, ic){
  if (ic!==false) icon(21, yb);
  return svg.append('text').attr('x',31).attr('y',yb).attr('font-family',MONO).attr('font-size',10.5).attr('fill','#111').text(txt);
}
svg.append('path').attr('d','M19,38 L22,32 L24,35 L26,33 L28,38 Z').attr('fill','#8f8d78').attr('stroke','#333').attr('stroke-width',0.8);
title(39, 'RSI(14) 64.43', false);
title(172, '$BPGDM (Weekly) 89.29');
svg.append('g').call(g=>{[[20,4],[22,6],[24,5],[26,7]].forEach(([xx,h])=>g.append('rect').attr('x',xx).attr('y',181.5-h).attr('width',1.4).attr('height',h).attr('fill','#3b8a3b'));});
svg.append('text').attr('x',30).attr('y',182).attr('font-family',MONO).attr('font-size',10.5).attr('fill','#2f8a2f').text('Volume undef');
title(565, 'GDX 44.12');
title(698, 'SIL 41.20');
title(831, 'GDXJ 55.50');
title(964, 'SILJ 15.14');
title(1230, 'GDXD 9.10');
svg.append('line').attr('x1',20).attr('x2',28).attr('y1',1093.5).attr('y2',1093.5).attr('stroke','#111').attr('stroke-width',2);
{
  const t = svg.append('text').attr('x',31).attr('y',1097).attr('font-family',MONO).attr('font-size',10.5).attr('fill','#111');
  t.append('tspan').text('Slow STO %K(14) %D(3) 66.67, ');
  t.append('tspan').attr('fill','#7d7373').text('55.56');
}

// ---- header ----
svg.append('text').attr('x',16).attr('y',13.5).attr('font-family',SANS).attr('font-size',13).attr('font-weight','bold').attr('fill','#111').text('$BPGDM');
svg.append('text').attr('x',75).attr('y',12.5).attr('font-family',SANS).attr('font-size',10.5).attr('fill','#111').text('Gold Miners Bullish Percent Index');
svg.append('text').attr('x',240).attr('y',12.5).attr('font-family',SANS).attr('font-size',10.5).attr('fill','#111').text('INDX');
svg.append('text').attr('x',16).attr('y',26).attr('font-family',SANS).attr('font-size',10.5).attr('fill','#111').text('22-Oct-2024 1:44pm');
svg.append('text').attr('x',859).attr('y',13).attr('text-anchor','end').attr('font-family',SANS).attr('font-size',10.5).attr('fill','#444').text('©StockCharts.com');
{
  const t = svg.append('text').attr('x',850).attr('y',25.5).attr('text-anchor','end').attr('font-family',SANS).attr('font-size',10.5).attr('fill','#111').style('white-space','pre');
  [['Open',' 89.29  '],['High',' 89.29  '],['Low',' 89.29  '],['Last',' 89.29  '],['Chg',' +0.00 (+0.00%)']].forEach(([a,b])=>{
    t.append('tspan').attr('font-weight','bold').text(a); t.append('tspan').text(b);
  });
  svg.append('path').attr('d','M852,25 L855.5,19.5 L859,25 Z').attr('fill','#2e8b2e');
}

// ---- callouts ----
function callout(bx, by, bw, bh, tail, lines, fs){
  const g = svg.append('g');
  g.append('rect').attr('x',bx+3).attr('y',by+3).attr('width',bw).attr('height',bh).attr('fill','#9a9a9a').attr('opacity',0.7);
  g.append('path').attr('d','M'+tail.map(p=>p.join(',')).join(' L')+' Z').attr('fill','#fff').attr('stroke','#999').attr('stroke-width',1);
  g.append('rect').attr('x',bx).attr('y',by).attr('width',bw).attr('height',bh).attr('fill','#fff').attr('stroke','#aaa').attr('stroke-width',1);
  g.append('path').attr('d','M'+tail.map(p=>p.join(',')).join(' L')).attr('fill','#fff').attr('stroke','none');
  lines.forEach(([tx,ty,s])=>g.append('text').attr('x',tx).attr('y',ty).attr('font-family',SANS).attr('font-weight','bold').attr('font-size',fs).attr('fill','#f00').text(s));
}
callout(641,129,142,48,[[764,176],[781,168],[801,193]],[[645,148,'gravestone'],[645,170,'doji sell signal']],18);
callout(731,304,70,28,[[786,305],[798,305],[813,270]],[[734,323.5,'STOP']],18);
svg.append('text').attr('x',519).attr('y',200.5).attr('font-family',SANS).attr('font-weight','bold').attr('font-size',18).attr('fill','#f00').text('8-5-24 Get into protection mode.');
</script>
</body></html>
